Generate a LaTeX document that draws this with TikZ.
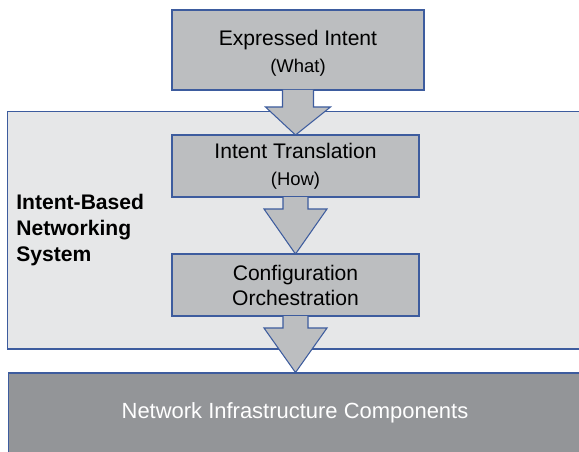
\documentclass[tikz,border=0pt]{standalone}
\usepackage{fontspec}
\setmainfont{Liberation Sans}
\usetikzlibrary{calc}
\definecolor{boxgray}{HTML}{BCBEC0}
\definecolor{sysgray}{HTML}{E6E7E8}
\definecolor{infragray}{HTML}{939598}
\definecolor{edgeblue}{HTML}{3D5C9E}
\tikzset{
    stepbox/.style={draw=edgeblue,fill=boxgray,line width=0.6pt,inner sep=0pt,outer sep=0pt,
        align=center,font=\fontsize{12}{14.2}\selectfont},
    fatarrow/.style={draw=edgeblue,fill=boxgray,line width=0.6pt,line join=miter},
}
\begin{document}
\begin{tikzpicture}[x=0.02cm,y=-0.02cm]
\clip (0,0) rectangle (579,451);

% Intent-Based Networking System
\node[draw=edgeblue,fill=sysgray,line width=0.6pt,minimum width=11.52cm,minimum height=4.76cm,inner sep=0pt] (system) at (295,230) {};
\node[anchor=west,align=left,inner sep=0pt,font=\fontsize{12}{14.8}\selectfont\bfseries] (syslabel) at (16,230) {Intent-Based\\Networking\\System};

% Infrastructure
\node[draw=edgeblue,fill=infragray,line width=0.6pt,minimum width=11.48cm,minimum height=1.6cm,inner sep=0pt,
      text=white,font=\fontsize{12.5}{15}\selectfont] (infra) at (295,413) {Network Infrastructure Components};

% Steps
\node[stepbox,minimum width=5.04cm,minimum height=1.6cm] (expr) at (298,50) {};
\node[align=center,font=\fontsize{12}{14.2}\selectfont] (exprtext) at (298,53.5)
    {Expressed Intent\\[1.3pt]{\fontsize{10.5}{12}\selectfont (What)}};
\node[stepbox,minimum width=4.94cm,minimum height=1.24cm] (trans) at (295.5,166)
    {Intent Translation\\[1pt]{\fontsize{10.5}{12}\selectfont (How)}};
\node[stepbox,minimum width=4.94cm,minimum height=1.24cm] (config) at (295.5,285)
    {Configuration\\Orchestration};

% Block arrows
\filldraw[fatarrow] ($(expr.south)+(-15.5,0)$) -- ($(expr.south)+(-15.5,17)$) -- ($(expr.south)+(-32.5,17)$)
    -- (trans.north) -- ($(expr.south)+(32.5,17)$) -- ($(expr.south)+(15.5,17)$) -- ($(expr.south)+(15.5,0)$);
\filldraw[fatarrow] ($(trans.south)+(-12.5,0)$) -- ($(trans.south)+(-12.5,12)$) -- ($(trans.south)+(-31.5,12)$)
    -- (config.north) -- ($(trans.south)+(31.5,12)$) -- ($(trans.south)+(12.5,12)$) -- ($(trans.south)+(12.5,0)$);
\filldraw[fatarrow] ($(config.south)+(-12.5,0)$) -- ($(config.south)+(-12.5,12)$) -- ($(config.south)+(-31.5,12)$)
    -- (config.south |- infra.north) -- ($(config.south)+(31.5,12)$) -- ($(config.south)+(12.5,12)$) -- ($(config.south)+(12.5,0)$);

\end{tikzpicture}
\end{document}
